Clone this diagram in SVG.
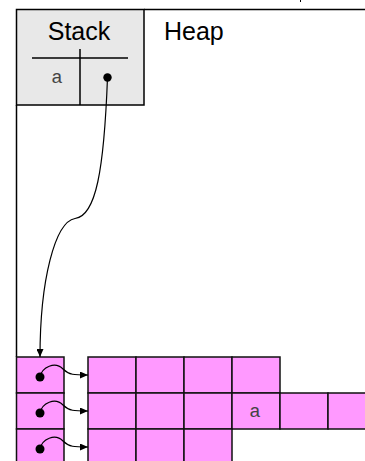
<svg xmlns="http://www.w3.org/2000/svg" width="365" height="461" viewBox="0 0 365 461">
<style>
.ln{stroke:#000;stroke-width:1.5;fill:none}
.cell{fill:#ff99ff;stroke:#111;stroke-width:1.5}
.lbl{font-family:"Liberation Sans",Arial,sans-serif;font-size:25px;fill:#000}
.mono{font-family:"Liberation Mono","Courier New",monospace;font-size:19px;fill:#444}
.conn{stroke:#000;stroke-width:1.2;fill:none}
</style>
<defs>
<marker id="ah" markerWidth="8" markerHeight="7" refX="8" refY="3.5" orient="auto" markerUnits="userSpaceOnUse">
<path d="M0,0 L8,3.5 L0,7 z" fill="#000"/>
</marker>
</defs>
<rect width="365" height="461" fill="#fff"/>
<line x1="300.5" y1="0" x2="300.5" y2="2" stroke="#000" stroke-width="1"/>
<g id="heap">
<line class="ln" x1="144" y1="9.5" x2="365" y2="9.5"/>
<line class="ln" x1="16.5" y1="105" x2="16.5" y2="357"/>
<text class="lbl" x="164" y="40">Heap</text>
</g>
<g id="stack">
<rect x="16.5" y="9.5" width="127.5" height="95.5" fill="#e8e8e8" stroke="#000" stroke-width="1.5"/>
<text class="lbl" x="79" y="40" text-anchor="middle">Stack</text>
<line class="ln" x1="32" y1="58" x2="128" y2="58"/>
<line class="ln" x1="80" y1="49" x2="80" y2="105"/>
<text class="mono" x="57" y="83" text-anchor="middle">a</text>
<circle cx="107.5" cy="77.5" r="4.2" fill="#000"/>
</g>
<g id="ptrs">
<rect class="cell" x="16.5" y="357" width="47.5" height="36"/>
<rect class="cell" x="16.5" y="393" width="47.5" height="36"/>
<rect class="cell" x="16.5" y="429" width="47.5" height="36"/>
<circle cx="40" cy="377" r="4.5" fill="#000"/>
<circle cx="40" cy="413" r="4.5" fill="#000"/>
<circle cx="40" cy="449" r="4.5" fill="#000"/>
</g>
<g id="row1">
<rect class="cell" x="88" y="357" width="48" height="36"/>
<rect class="cell" x="136" y="357" width="48" height="36"/>
<rect class="cell" x="184" y="357" width="48" height="36"/>
<rect class="cell" x="232" y="357" width="48" height="36"/>
</g>
<g id="row2">
<rect class="cell" x="88" y="393" width="48" height="36"/>
<rect class="cell" x="136" y="393" width="48" height="36"/>
<rect class="cell" x="184" y="393" width="48" height="36"/>
<rect class="cell" x="232" y="393" width="48" height="36"/>
<rect class="cell" x="280" y="393" width="48" height="36"/>
<rect class="cell" x="328" y="393" width="48" height="36"/>
<text class="mono" x="255" y="417" text-anchor="middle">a</text>
</g>
<g id="row3">
<rect class="cell" x="88" y="429" width="48" height="36"/>
<rect class="cell" x="136" y="429" width="48" height="36"/>
<rect class="cell" x="184" y="429" width="48" height="36"/>
</g>
<g id="connectors">
<path class="conn" d="M107.5,77.5 C104,170 96,216 75,218.5 C55,222 40,280 40,357" marker-end="url(#ah)"/>
<path class="conn" d="M40,377 C42,367 55,361 63,369 C69,375 74,375 88,375" marker-end="url(#ah)"/>
<path class="conn" d="M40,413 C42,403 55,397 63,405 C69,411 74,411 88,411" marker-end="url(#ah)"/>
<path class="conn" d="M40,449 C42,439 55,433 63,441 C69,447 74,447 88,447" marker-end="url(#ah)"/>
</g>
</svg>
